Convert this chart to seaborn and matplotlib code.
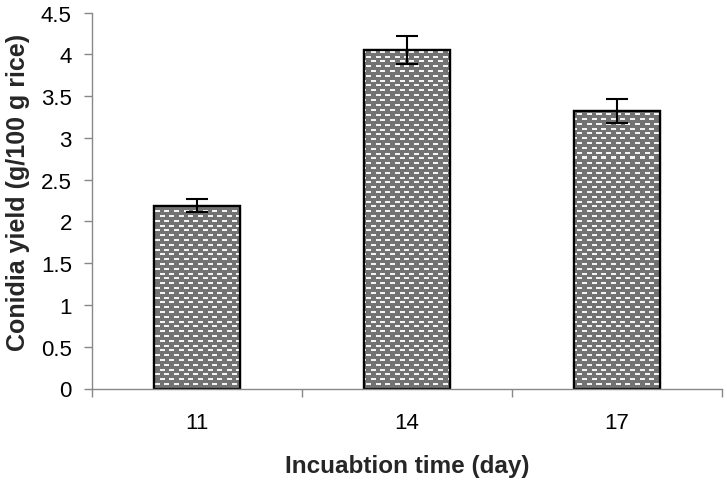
import numpy as np
import pandas as pd
import matplotlib
matplotlib.use("Agg")
import matplotlib.pyplot as plt
import seaborn as sns

days = ["11", "14", "17"]
yield_vals = [2.19, 4.05, 3.32]
yield_err = [0.08, 0.17, 0.14]
y_ticks = [0, 0.5, 1, 1.5, 2, 2.5, 3, 3.5, 4, 4.5]
y_ticklabels = ["0", "0.5", "1", "1.5", "2", "2.5", "3", "3.5", "4", "4.5"]

sns.set_theme(style="white")
plt.rcParams["font.family"] = ["Liberation Sans", "DejaVu Sans"]

W, H = 727, 485
fig = plt.figure(figsize=(W / 100, H / 100), dpi=100)
ax_l, ax_r, ax_b, ax_t = 92, 722, 389.5, 13.5
ax = fig.add_axes([ax_l / W, (H - ax_b) / H, (ax_r - ax_l) / W, (ax_b - ax_t) / H])

df = pd.DataFrame({"day": days, "yield": yield_vals})
sns.barplot(data=df, x="day", y="yield", ax=ax, color="#737373", saturation=1,
            width=0.405, edgecolor="black", linewidth=1.6, errorbar=None)

ax.set_xlim(-0.5, 2.5)
ax.set_ylim(0, 4.5)

# texture: gray with white brick-arranged dashes
pw, ph = int(ax_r - ax_l), int(ax_b - ax_t)
ii, jj = np.mgrid[0:ph, 0:pw].astype(float)
rp, cp = 4.8, 9.6
row = np.floor(ii / rp)
in_row = (ii - row * rp) < 2.0
colpos = np.mod(jj + (row % 2) * cp / 2, cp) < 5.0
tex = np.where(in_row & colpos, 0.96, 0.45)
img = np.dstack([tex, tex, tex])
for p in list(ax.patches):
    im = ax.imshow(img, extent=(-0.5, 2.5, 0, 4.5), aspect="auto",
                   interpolation="nearest", zorder=p.get_zorder() + 0.1, origin="upper")
    im.set_clip_path(p)
    ax.add_patch(plt.Rectangle(p.get_xy(), p.get_width(), p.get_height(), fill=False,
                               edgecolor="black", linewidth=1.6, zorder=p.get_zorder() + 0.2))

ax.errorbar(x=np.arange(len(days)), y=yield_vals, yerr=yield_err, fmt="none",
            ecolor="black", elinewidth=1.5, capsize=8, capthick=1.5, zorder=10)

ax.set_yticks(y_ticks)
ax.set_yticklabels(y_ticklabels)
ax.set_xticks([0, 1, 2])
ax.set_xticklabels(days)
ax.xaxis.set_minor_locator(matplotlib.ticker.FixedLocator([-0.5, 0.5, 1.5, 2.5]))
ax.tick_params(axis="x", which="major", length=0, pad=17, labelsize=16, colors="black")
ax.tick_params(axis="x", which="minor", length=6, width=1, color="#888888", direction="out", bottom=True)
ax.tick_params(axis="y", which="major", length=6, width=1, color="#888888", direction="out",
               left=True, labelsize=16, labelcolor="black", pad=8.5)

for s in ["top", "right"]:
    ax.spines[s].set_visible(False)
for s in ["left", "bottom"]:
    ax.spines[s].set_color("#888888")
    ax.spines[s].set_linewidth(1.0)

ax.set_xlabel("Incuabtion time (day)", fontsize=17.5, fontweight="bold", labelpad=15)
ax.set_ylabel("Conidia yield (g/100 g rice)", fontsize=18, fontweight="bold")
ax.yaxis.set_label_coords(-0.098, 0.525)

fig.savefig("out.png", dpi=100)
